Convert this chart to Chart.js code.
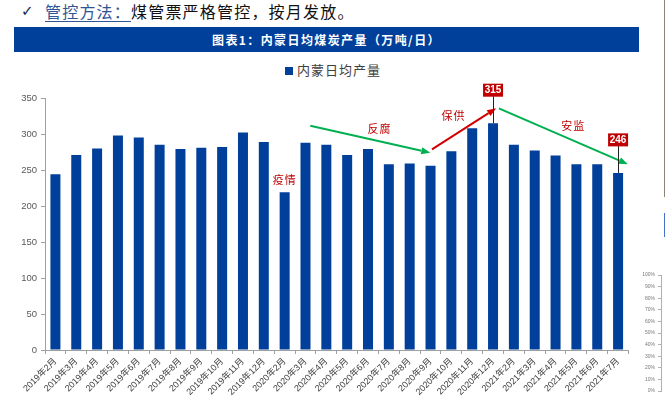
<!DOCTYPE html>
<html lang="zh">
<head>
<meta charset="UTF-8">
<title>内蒙日均煤炭产量</title>
<script src="https://cdn.jsdelivr.net/npm/chart.js"></script>
<style>
    html, body {
        margin: 0;
        padding: 0;
        background: #fff;
    }
    body {
        position: relative;
        width: 665px;
        height: 397px;
        overflow: hidden;
        font-family: "Noto Sans CJK SC", sans-serif;
    }
    .check {
        position: absolute;
        left: 21px;
        top: 0;
        font-family: "DejaVu Sans", sans-serif;
        font-size: 15px;
        line-height: 22px;
        color: #1a2a4a;
    }
    .head {
        position: absolute;
        left: 45px;
        top: 0;
        font-size: 16px;
        line-height: 22px;
        letter-spacing: 1.2px;
        color: #111;
        white-space: nowrap;
    }
    .head u {
        color: #2f5597;
        text-decoration-thickness: 1px;
        text-underline-offset: 3px;
    }
    .banner {
        position: absolute;
        left: 14px;
        top: 27px;
        width: 625px;
        height: 25px;
        line-height: 25px;
        background: #00409a;
        color: #fff;
        font-size: 12px;
        font-weight: bold;
        letter-spacing: 1.4px;
        text-align: center;
    }
    .legend {
        position: absolute;
        left: 285px;
        top: 61px;
        font-size: 13px;
        line-height: 18px;
        letter-spacing: 1px;
        color: #404040;
        white-space: nowrap;
    }
    .legend i {
        display: inline-block;
        width: 8px;
        height: 8px;
        background: #00409a;
        margin-right: 4px;
        vertical-align: 0;
    }
    #mainChart { position: absolute; left: 0; top: 75px; }
    #pctAxis { position: absolute; left: 620px; top: 265px; }
    .edge {
        position: absolute;
        left: 664px;
        top: 0;
        width: 1px;
        height: 197px;
        background: #8c8276;
    }
    .edge2 {
        position: absolute;
        left: 664px;
        top: 213px;
        width: 1px;
        height: 24px;
        background: #4472c4;
    }
</style>
</head>
<body>
<span class="check">✓</span>
<div class="head"><u>管控方法：</u>煤管票严格管控，按月发放。</div>
<div class="banner">图表1：内蒙日均煤炭产量（万吨/日）</div>
<div class="legend"><i></i>内蒙日均产量</div>
<canvas id="mainChart" width="640" height="322"></canvas>
<canvas id="pctAxis" width="45" height="132"></canvas>
<div class="edge"></div>
<div class="edge2"></div>
<script>
    // 月份
    const months = [
        '2019年2月', '2019年3月', '2019年4月', '2019年5月', '2019年6月', '2019年7月',
        '2019年8月', '2019年9月', '2019年10月', '2019年11月', '2019年12月',
        '2020年2月', '2020年3月', '2020年4月', '2020年5月', '2020年6月', '2020年7月',
        '2020年8月', '2020年9月', '2020年10月', '2020年11月', '2020年12月',
        '2021年2月', '2021年3月', '2021年4月', '2021年5月', '2021年6月', '2021年7月'
    ];
    // 内蒙日均产量（万吨/日）
    const output = [
        244, 271, 280, 298, 295, 285, 279, 281, 282, 302, 289,
        219, 288, 285, 271, 279, 258, 259, 256, 276, 308, 315,
        285, 277, 270, 258, 258, 246
    ];
    const yMax = 350;
    const yStep = 50;
    const pctTicks = [0, 0.1, 0.2, 0.3, 0.4, 0.5, 0.6, 0.7, 0.8, 0.9, 1];

    // 图上的文字标注（位置以类别序号和数值表示）
    const notes = [
        { text: '疫情', at: [11.0, 236] },
        { text: '反腐', at: [15.55, 307] },
        { text: '保供', at: [19.1, 325] },
        { text: '安监', at: [24.85, 311] }
    ];
    // 趋势箭头
    const arrows = [
        { kind: 'down', from: [12.23, 311.5], to: [17.99, 274] },
        { kind: 'up', from: [18.07, 278.7], to: [21.15, 335.7] },
        { kind: 'down', from: [21.28, 335.7], to: [27.47, 258] }
    ];
    // 带红框的数值
    const callouts = [21, 27];

    const annotPlugin = {
        id: 'annot',
        afterDatasetsDraw(chart) {
            const ctx = chart.ctx;
            const xs = chart.scales.x;
            const ys = chart.scales.y;
            const arrowColor = { up: '#d10000', down: '#00b050' };
            ctx.save();

            // 箭头
            arrows.forEach(a => {
                const x1 = xs.getPixelForValue(a.from[0]);
                const y1 = ys.getPixelForValue(a.from[1]);
                const x2 = xs.getPixelForValue(a.to[0]);
                const y2 = ys.getPixelForValue(a.to[1]);
                const ang = Math.atan2(y2 - y1, x2 - x1);
                const head = 9;
                const bx = x2 - head * Math.cos(ang);
                const by = y2 - head * Math.sin(ang);
                ctx.strokeStyle = arrowColor[a.kind];
                ctx.fillStyle = arrowColor[a.kind];
                ctx.lineWidth = 2;
                ctx.beginPath();
                ctx.moveTo(x1, y1);
                ctx.lineTo(bx, by);
                ctx.stroke();
                ctx.beginPath();
                ctx.moveTo(x2, y2);
                ctx.lineTo(bx + 3.5 * Math.sin(ang), by - 3.5 * Math.cos(ang));
                ctx.lineTo(bx - 3.5 * Math.sin(ang), by + 3.5 * Math.cos(ang));
                ctx.closePath();
                ctx.fill();
            });

            // 文字
            ctx.fillStyle = '#c00000';
            ctx.font = '11px "Noto Sans CJK SC"';
            ctx.letterSpacing = '1px';
            ctx.textAlign = 'center';
            ctx.textBaseline = 'middle';
            notes.forEach(n => {
                ctx.fillText(n.text, xs.getPixelForValue(n.at[0]), ys.getPixelForValue(n.at[1]));
            });
            ctx.letterSpacing = '0px';

            // 红框数值
            callouts.forEach(i => {
                const cx = xs.getPixelForValue(i);
                const top = ys.getPixelForValue(output[i]);
                const cy = top - 33;
                ctx.strokeStyle = '#222';
                ctx.lineWidth = 1;
                ctx.beginPath();
                ctx.moveTo(Math.round(cx) + 0.5, cy + 6);
                ctx.lineTo(Math.round(cx) + 0.5, top);
                ctx.stroke();
                ctx.fillStyle = '#c00000';
                ctx.fillRect(cx - 10, cy - 6.5, 20, 13);
                ctx.fillStyle = '#fff';
                ctx.font = 'bold 10px "Liberation Sans"';
                ctx.fillText(String(output[i]), cx, cy + 0.5);
            });
            ctx.restore();
        }
    };

    new Chart(document.getElementById('mainChart').getContext('2d'), {
        type: 'bar',
        data: {
            labels: months,
            datasets: [{
                label: '内蒙日均产量',
                data: output,
                backgroundColor: '#00409a',
                borderWidth: 0,
                barPercentage: 0.48,
                categoryPercentage: 1
            }]
        },
        options: {
            responsive: false,
            animation: false,
            layout: { padding: { top: 23, right: 11.5, left: 0, bottom: 0 } },
            plugins: {
                legend: { display: false },
                tooltip: { enabled: false }
            },
            scales: {
                x: {
                    afterFit: s => { s.height = 47; },
                    border: { color: '#a0a0a0' },
                    grid: { drawOnChartArea: false, tickLength: 4, color: '#a0a0a0' },
                    ticks: {
                        minRotation: 45,
                        maxRotation: 45,
                        autoSkip: false,
                        padding: 2,
                        color: '#404040',
                        font: { family: '"Liberation Sans", "Noto Sans CJK SC"', size: 9 }
                    }
                },
                y: {
                    min: 0,
                    max: yMax,
                    afterFit: s => { s.width = 45; },
                    border: { color: '#a0a0a0' },
                    grid: { drawOnChartArea: false, tickLength: 4, color: '#a0a0a0' },
                    ticks: {
                        stepSize: yStep,
                        padding: 4,
                        color: '#595959',
                        font: { family: '"Liberation Sans"', size: 9.5 }
                    }
                }
            }
        },
        plugins: [annotPlugin]
    });

    // 右下角另一张图的百分比坐标轴
    new Chart(document.getElementById('pctAxis').getContext('2d'), {
        type: 'bar',
        data: { labels: [''], datasets: [{ data: [null] }] },
        options: {
            responsive: false,
            animation: false,
            layout: { padding: { top: 10, bottom: 5, left: 0, right: 0 } },
            plugins: { legend: { display: false }, tooltip: { enabled: false } },
            scales: {
                x: { display: false },
                y: {
                    min: pctTicks[0],
                    max: pctTicks[pctTicks.length - 1],
                    afterFit: s => { s.width = 41; },
                    afterBuildTicks: s => { s.ticks = pctTicks.map(v => ({ value: v })); },
                    border: { color: '#b0b0b0' },
                    grid: { drawOnChartArea: false, tickLength: 3, color: '#b0b0b0' },
                    ticks: {
                        padding: 3,
                        color: '#777',
                        callback: v => Math.round(v * 100) + '%',
                        font: { family: '"Liberation Sans"', size: 5 }
                    }
                }
            }
        }
    });
</script>
</body>
</html>
